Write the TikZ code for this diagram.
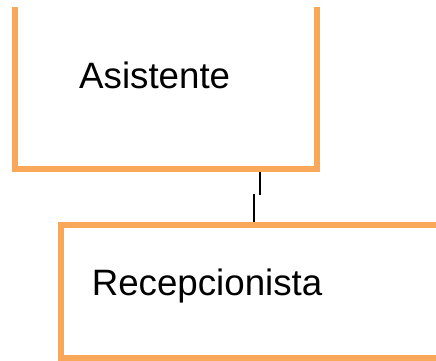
\documentclass[tikz,border=0pt]{standalone}
\usepackage{fontspec}
\setmainfont{Liberation Sans}
\definecolor{boxorange}{RGB}{248,168,88}
\begin{document}
\begin{tikzpicture}[x=1pt,y=1pt,
  orgbox/.style={draw=boxorange, line width=6pt, fill=white, rectangle, inner sep=0pt},
  lbl/.style={font=\fontsize{36.7}{40}\selectfont, inner sep=0pt, anchor=base west},
  conn/.style={draw=black, line width=2pt}]
\useasboundingbox (0,0) rectangle (436,360);
\clip (0,0) rectangle (436,353);
\node[orgbox, minimum width=302pt, minimum height=210pt, anchor=south west] (asis) at (12,188) {};
\node[orgbox, minimum width=420pt, minimum height=132.7pt, anchor=south west] (recep) at (58.3,-1) {};
\node[lbl] (t1) at (79,272) {Asistente};
\node[lbl] (t2) at (91.6,64.3) {Recepcionista};
\coordinate (j1) at (260,165.3);
\coordinate (j2) at (254,166.3);
\draw[conn] (asis.south -| j1) -- (j1);
\draw[conn] (j2) -- (recep.north -| j2);
\end{tikzpicture}
\end{document}
